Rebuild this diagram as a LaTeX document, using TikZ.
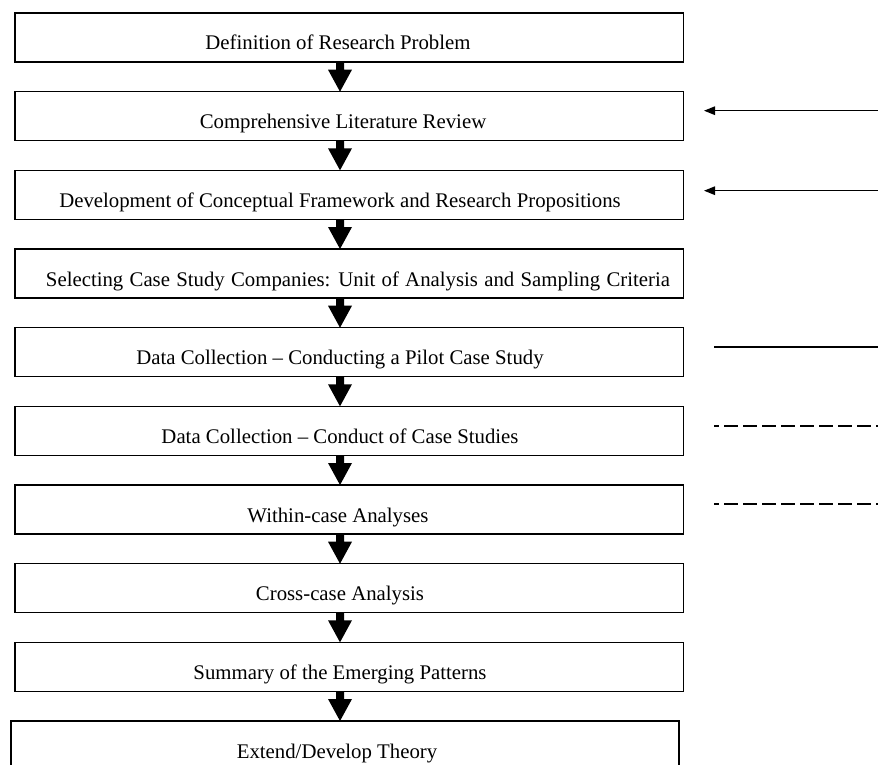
\documentclass[tikz,border=0pt]{standalone}
\usepackage{fontspec}
\setmainfont{Liberation Serif}
\usetikzlibrary{arrows.meta,calc}
\begin{document}
\begin{tikzpicture}[x=1pt,y=-1pt,
  box/.style={draw=black, line width=1.4pt, minimum width=668.3pt, minimum height=49pt, inner sep=0pt, outer sep=0pt},
  steptext/.style={anchor=base, font=\fontsize{20.8}{24}\selectfont, inner sep=0pt},
  feedback/.style={line width=1.3pt, -{Triangle[length=11pt,width=8.5pt]}},
  linkline/.style={line width=2pt},
  dashlink/.style={line width=2pt, dash pattern=on 14pt off 5pt, dash phase=9pt}]
\useasboundingbox (0,0) rectangle (878,765);

% vertical axis of the flow arrows
\coordinate (axis) at (340,0);

% thick downward arrow between two step boxes
\newcommand\flowarrow[2]{%
  \path (#1.south -| axis) coordinate (fs) (#2.north -| axis) coordinate (ft);
  \fill ($(fs)+(-4,0)$) -- ($(ft)+(-4,-22)$) -- ($(ft)+(-12,-22)$) -- (ft)
    -- ($(ft)+(12,-22)$) -- ($(ft)+(4,-22)$) -- ($(fs)+(4,0)$) -- cycle;}

% step boxes
\node[box] (b1) at (349.2,37.5) {};
\node[box] (b2) at (349.2,116.2) {};
\node[box] (b3) at (349.2,194.8) {};
\node[box] (b4) at (349.2,273.5) {};
\node[box] (b5) at (349.2,352.2) {};
\node[box] (b6) at (349.2,430.8) {};
\node[box] (b7) at (349.2,509.5) {};
\node[box] (b8) at (349.2,588.2) {};
\node[box] (b9) at (349.2,666.8) {};
\node[box] (b10) at (345,745.5) {};

% step labels
\node[steptext] (t1) at (338,50) {Definition of Research Problem};
\node[steptext] (t2) at (343,128.7) {Comprehensive Literature Review};
\node[steptext] (t3) at (340,207.3) {Development of Conceptual Framework and Research Propositions};
\node[steptext] (t4) at (358,286) {\spaceskip=0.3em Selecting Case Study Companies: Unit of Analysis and Sampling Criteria};
\node[steptext] (t5) at (340,364.7) {Data Collection -- Conducting a Pilot Case Study};
\node[steptext] (t6) at (340,443.3) {Data Collection -- Conduct of Case Studies};
\node[steptext] (t7) at (338,522) {Within-case Analyses};
\node[steptext] (t8) at (340,600.7) {Cross-case Analysis};
\node[steptext] (t9) at (340,679.3) {Summary of the Emerging Patterns};
\node[steptext] (t10) at (337,758) {Extend/Develop Theory};

% flow arrows
\flowarrow{b1}{b2}
\flowarrow{b2}{b3}
\flowarrow{b3}{b4}
\flowarrow{b4}{b5}
\flowarrow{b5}{b6}
\flowarrow{b6}{b7}
\flowarrow{b7}{b8}
\flowarrow{b8}{b9}
\flowarrow{b9}{b10}

% feedback arrows and side links
\coordinate (fa1) at (879,110.7);
\coordinate (fa2) at (704,110.7);
\coordinate (fb1) at (879,190.7);
\coordinate (fb2) at (704,190.7);
\coordinate (la1) at (714,346.7);
\coordinate (la2) at (879,346.7);
\coordinate (lb1) at (714,426);
\coordinate (lb2) at (879,426);
\coordinate (lc1) at (714,504.3);
\coordinate (lc2) at (879,504.3);
\draw[feedback] (fa1) -- (fa2);
\draw[feedback] (fb1) -- (fb2);
\draw[linkline] (la1) -- (la2);
\draw[dashlink] (lb1) -- (lb2);
\draw[dashlink] (lc1) -- (lc2);
\end{tikzpicture}
\end{document}
